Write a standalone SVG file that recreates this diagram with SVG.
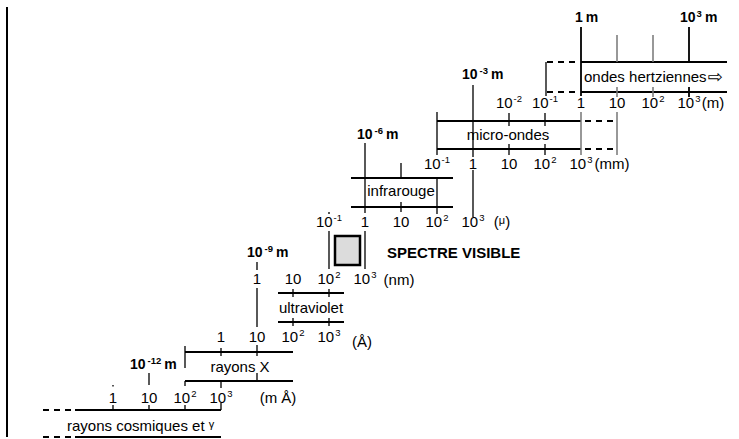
<svg xmlns="http://www.w3.org/2000/svg" width="739" height="439" viewBox="0 0 739 439">
<style>
text{font-family:"Liberation Sans",Arial,sans-serif;fill:#000}
.lb{font-size:15px;text-anchor:middle}
.nm{font-size:15px}
.sp{font-size:9.5px}
.mk{font-size:14px;font-weight:bold}
.mks{font-size:9.5px}
.sv{font-size:15px;font-weight:bold}
.band{stroke:#000;stroke-width:2;fill:none}
.dash{stroke:#000;stroke-width:2;stroke-dasharray:6 5;fill:none}
.tk{stroke:#000;stroke-width:1.3;fill:none}
.tb{stroke:#000;stroke-width:1.8;fill:none}
.g{stroke:#777;stroke-width:1.5;fill:none}
</style>
<rect width="739" height="439" fill="#fff"/>
<line x1="7" y1="7" x2="7" y2="437" stroke="#000" stroke-width="2"/>

<g id="cosmiques">
<path class="dash" d="M43 410H73M43 437H73"/>
<path class="band" d="M75 410H221M75 437H221"/>
<path class="tk" d="M113 405V410M149 405V410M185 405V410M221 403V410M113 385V386.5"/>
<text class="nm" x="67" y="431">rayons cosmiques et <tspan font-size="11" dy="-3">γ</tspan></text>
<text class="lb" x="113" y="403">1</text>
<text class="lb" x="149" y="403">10</text>
<text class="lb" x="185" y="403">10<tspan class="sp" dx="1" dy="-6">2</tspan></text>
<text class="lb" x="221" y="403">10<tspan class="sp" dx="1" dy="-6">3</tspan></text>
<text class="lb" x="278" y="403">(m Å)</text>
</g>

<g id="m12">
<text class="mk" x="130" y="369">10<tspan class="mks" dx="2" dy="-5">-12</tspan><tspan dx="3" dy="5">m</tspan></text>
<path class="tk" d="M149 373V385"/>
</g>

<g id="rayonsX">
<path class="band" d="M185 352H293M185 381H293"/>
<path class="tk" d="M185 346V368M221 348V356M257 373V381M185 381V386M221 381V388"/>
<text class="lb" x="240" y="372">rayons X</text>
<text class="lb" x="221" y="342">1</text>
<text class="lb" x="257" y="342">10</text>
<text class="lb" x="293" y="342">10<tspan class="sp" dx="1" dy="-6">2</tspan></text>
<text class="lb" x="329" y="342">10<tspan class="sp" dx="1" dy="-6">3</tspan></text>
<text class="lb" x="362" y="347">(Å)</text>
</g>

<g id="ultraviolet">
<path class="band" d="M278 293H344M278 322H344"/>
<path class="tk" d="M293 289V297M329 289V297M293 318V326M329 318V326"/>
<text class="lb" x="311" y="313">ultraviolet</text>
<text class="lb" x="257" y="284">1</text>
<text class="lb" x="293" y="284">10</text>
<text class="lb" x="329" y="284">10<tspan class="sp" dx="1" dy="-6">2</tspan></text>
<text class="lb" x="365" y="284">10<tspan class="sp" dx="1" dy="-6">3</tspan></text>
<text class="lb" x="399" y="285">(nm)</text>
</g>

<g id="m9">
<text class="mk" x="247" y="257">10<tspan class="mks" dx="2" dy="-5">-9</tspan><tspan dx="3" dy="5">m</tspan></text>
<path class="tk" d="M257 262V270M257 288V327M257 345V356"/>
</g>

<g id="visible">
<path class="tk" d="M329 231V269M365 231V269"/>
<rect x="335" y="236" width="25" height="29" fill="#dcdcdc" stroke="#000" stroke-width="2.5"/>
<text class="sv" x="387" y="258">SPECTRE VISIBLE</text>
</g>

<g id="infrarouge">
<path class="band" d="M351 178H453M351 207H453"/>
<path class="tk" d="M365 143V213M401 163V178M401 202V212M437 178V214M473 170V217M329 212V214"/>
<text class="lb" x="401" y="196">infrarouge</text>
<text class="lb" x="329" y="227">10<tspan class="sp" dx="1" dy="-6">-1</tspan></text>
<text class="lb" x="365" y="227">1</text>
<text class="lb" x="401" y="227">10</text>
<text class="lb" x="437" y="227">10<tspan class="sp" dx="1" dy="-6">2</tspan></text>
<text class="lb" x="473" y="227">10<tspan class="sp" dx="1" dy="-6">3</tspan></text>
<text class="lb" x="502" y="227">(<tspan font-size="11" dy="-3">μ</tspan><tspan dy="3">)</tspan></text>
</g>

<g id="m6">
<text class="mk" x="357" y="139">10<tspan class="mks" dx="2" dy="-5">-6</tspan><tspan dx="3" dy="5">m</tspan></text>
</g>

<g id="micro-ondes">
<path class="band" d="M437 121H581M437 149H581"/>
<path class="dash" d="M585 121H617M585 149H617"/>
<path class="tk" d="M437 112V155M473 85V157M509 113V126M545 113V126M509 144V155M545 144V155"/>
<path class="g" d="M581 112V155M617 112V155"/>
<text class="lb" x="508" y="140">micro-ondes</text>
<text class="lb" x="437" y="169">10<tspan class="sp" dx="1" dy="-6">-1</tspan></text>
<text class="lb" x="473" y="169">1</text>
<text class="lb" x="509" y="169">10</text>
<text class="lb" x="545" y="169">10<tspan class="sp" dx="1" dy="-6">2</tspan></text>
<text class="lb" x="581" y="169">10<tspan class="sp" dx="1" dy="-6">3</tspan></text>
<text class="lb" x="612" y="169">(mm)</text>
</g>

<g id="m3">
<text class="mk" x="462" y="79">10<tspan class="mks" dx="2" dy="-5">-3</tspan><tspan dx="3" dy="5">m</tspan></text>
</g>

<g id="ondes-hertziennes">
<path class="dash" d="M547 62H579M547 92H579"/>
<path class="band" d="M581 62H727M581 92H727"/>
<path class="tk" d="M546 62V96"/>
<path class="tb" d="M581 27V96M689 27V62M689 87V97"/>
<path class="g" d="M617 35V62M653 35V62M617 87V97M653 87V97"/>
<text class="nm" x="584" y="82">ondes hertziennes<tspan font-family="DejaVu Sans" font-size="18" dx="1" dy="1">⇨</tspan></text>
<text class="lb" x="509" y="108">10<tspan class="sp" dx="1" dy="-6">-2</tspan></text>
<text class="lb" x="545" y="108">10<tspan class="sp" dx="1" dy="-6">-1</tspan></text>
<text class="lb" x="581" y="108">1</text>
<text class="lb" x="617" y="108">10</text>
<text class="lb" x="653" y="108">10<tspan class="sp" dx="1" dy="-6">2</tspan></text>
<text class="lb" x="689" y="108">10<tspan class="sp" dx="1" dy="-6">3</tspan></text>
<text class="lb" x="713" y="108">(m)</text>
</g>

<g id="m0">
<text class="mk" x="575" y="22">1<tspan dx="3">m</tspan></text>
</g>
<g id="m-plus3">
<text class="mk" x="680" y="22">10<tspan class="mks" dx="1" dy="-5">3</tspan><tspan dx="3" dy="5">m</tspan></text>
</g>
</svg>
